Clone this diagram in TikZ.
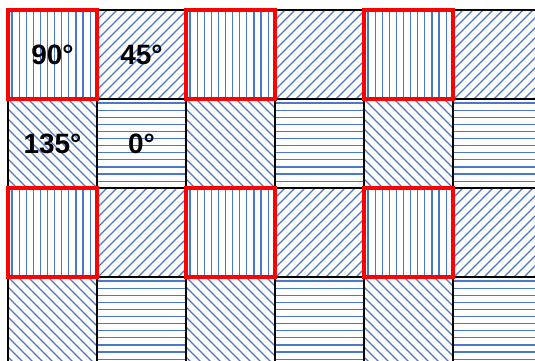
\documentclass[tikz,border=0pt]{standalone}
\usepackage{fontspec}
\setmainfont{Liberation Sans}
\definecolor{hatchblue}{HTML}{4A78CC}
\tikzset{
hatch/.style={hatchblue,line width=0.6pt},
gridline/.style={black,line width=0.6pt},
redbox/.style={red,line width=2pt},
angle/.style={font=\fontsize{14}{16}\selectfont\bfseries}
}
\begin{document}
\begin{tikzpicture}[x=0.5pt,y=-0.5pt]
\useasboundingbox (0,0) rectangle (535,360);
\clip (0,0) rectangle (535,360);

% 90 degres
\foreach \i in {0,2,4}
\foreach \j in {0,2}
{
\begin{scope}
\clip (8+89*\i,10+89*\j) rectangle ++(89,89);
\foreach \d in {0,...,12}
\draw[hatch] (12+89*\i+7.1*\d,10+89*\j) -- ++(0,89);
\end{scope}
}

% 0 degres
\foreach \i in {1,3,5}
\foreach \j in {1,3}
{
\begin{scope}
\clip (8+89*\i,10+89*\j) rectangle ++(89,89);
\foreach \d in {0,...,12}
\draw[hatch] (8+89*\i,14+89*\j+7.1*\d) -- ++(89,0);
\end{scope}
}

% 45 degres
\foreach \i in {1,3,5}
\foreach \j in {0,2}
{
\begin{scope}
\clip (8+89*\i,10+89*\j) rectangle ++(89,89);
\foreach \d in {0,...,19}
\draw[hatch] (8+89*\i+10*\d,10+89*\j) -- ++(-100,100);
\end{scope}
}

% 135 degres
\foreach \i in {0,2,4}
\foreach \j in {1,3}
{
\begin{scope}
\clip (8+89*\i,10+89*\j) rectangle ++(89,89);
\foreach \d in {0,...,19}
\draw[hatch] (-92+89*\i+10*\d,10+89*\j) -- ++(100,100);
\end{scope}
}

% Grille
\foreach \i in {0,...,6}
\draw[gridline] (8+89*\i,10) -- (8+89*\i,370);
\foreach \j in {0,...,4}
\draw[gridline] (8,10+89*\j) -- (545,10+89*\j);

% Cadres rouges
\foreach \i in {0,2,4}
\foreach \j in {0,2}
\draw[redbox] (8+89*\i,10+89*\j) rectangle ++(89,89);

% Angles
\node[angle] (a90) at (52.5,54.5) {90°};
\node[angle] (a45) at (141.5,54.5) {45°};
\node[angle] (a135) at (52.5,143.5) {135°};
\node[angle] (a0) at (141.5,143.5) {0°};

\end{tikzpicture}
\end{document}
